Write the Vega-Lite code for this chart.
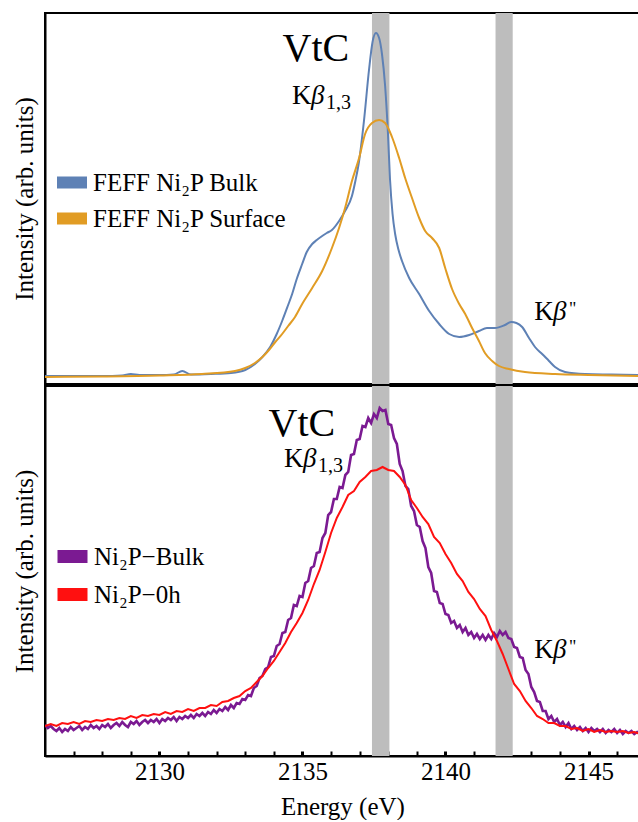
{
  "$schema": "https://vega.github.io/schema/vega-lite/v6.json",
  "padding": {"left": 11, "top": 12, "right": 0, "bottom": 0},
  "spacing": 0,
  "background": "white",
  "config": {
    "view": {"stroke": "black", "strokeWidth": 2},
    "font": "serif",
    "axis": {"grid": false}
  },
  "resolve": {"scale": {"color": "independent", "y": "independent"}, "legend": {"color": "independent"}},
  "datasets": {
    "bands": [{"e": 2137.43, "e2": 2138.04}, {"e": 2141.75, "e2": 2142.35}],
    "top": [
      {"s":"FEFF Ni₂P Bulk","e":2126.0,"i":8},{"s":"FEFF Ni₂P Bulk","e":2127.0,"i":8},{"s":"FEFF Ni₂P Bulk","e":2128.0,"i":8},{"s":"FEFF Ni₂P Bulk","e":2128.7,"i":8.5},{"s":"FEFF Ni₂P Bulk","e":2129.0,"i":10},{"s":"FEFF Ni₂P Bulk","e":2129.3,"i":9},{"s":"FEFF Ni₂P Bulk","e":2130.0,"i":9},{"s":"FEFF Ni₂P Bulk","e":2130.5,"i":9.5},{"s":"FEFF Ni₂P Bulk","e":2130.8,"i":13},{"s":"FEFF Ni₂P Bulk","e":2131.1,"i":9.5},{"s":"FEFF Ni₂P Bulk","e":2131.8,"i":10},{"s":"FEFF Ni₂P Bulk","e":2132.5,"i":11},{"s":"FEFF Ni₂P Bulk","e":2133.0,"i":14},{"s":"FEFF Ni₂P Bulk","e":2133.34,"i":20},{"s":"FEFF Ni₂P Bulk","e":2133.6,"i":27},{"s":"FEFF Ni₂P Bulk","e":2133.87,"i":37},{"s":"FEFF Ni₂P Bulk","e":2134.1,"i":50},{"s":"FEFF Ni₂P Bulk","e":2134.29,"i":63},{"s":"FEFF Ni₂P Bulk","e":2134.5,"i":79},{"s":"FEFF Ni₂P Bulk","e":2134.64,"i":90},{"s":"FEFF Ni₂P Bulk","e":2134.8,"i":105},{"s":"FEFF Ni₂P Bulk","e":2134.99,"i":120},{"s":"FEFF Ni₂P Bulk","e":2135.15,"i":132},{"s":"FEFF Ni₂P Bulk","e":2135.34,"i":140},{"s":"FEFF Ni₂P Bulk","e":2135.5,"i":144},{"s":"FEFF Ni₂P Bulk","e":2135.69,"i":148},{"s":"FEFF Ni₂P Bulk","e":2135.85,"i":151},{"s":"FEFF Ni₂P Bulk","e":2136.03,"i":154},{"s":"FEFF Ni₂P Bulk","e":2136.28,"i":163},{"s":"FEFF Ni₂P Bulk","e":2136.49,"i":173},{"s":"FEFF Ni₂P Bulk","e":2136.73,"i":188},{"s":"FEFF Ni₂P Bulk","e":2136.85,"i":203},{"s":"FEFF Ni₂P Bulk","e":2136.98,"i":223},{"s":"FEFF Ni₂P Bulk","e":2137.15,"i":263},{"s":"FEFF Ni₂P Bulk","e":2137.33,"i":315},{"s":"FEFF Ni₂P Bulk","e":2137.45,"i":342},{"s":"FEFF Ni₂P Bulk","e":2137.57,"i":351},{"s":"FEFF Ni₂P Bulk","e":2137.68,"i":346},{"s":"FEFF Ni₂P Bulk","e":2137.78,"i":330},{"s":"FEFF Ni₂P Bulk","e":2137.89,"i":298},{"s":"FEFF Ni₂P Bulk","e":2137.99,"i":250},{"s":"FEFF Ni₂P Bulk","e":2138.06,"i":205},{"s":"FEFF Ni₂P Bulk","e":2138.15,"i":170},{"s":"FEFF Ni₂P Bulk","e":2138.24,"i":150},{"s":"FEFF Ni₂P Bulk","e":2138.36,"i":134},{"s":"FEFF Ni₂P Bulk","e":2138.48,"i":123},{"s":"FEFF Ni₂P Bulk","e":2138.73,"i":106},{"s":"FEFF Ni₂P Bulk","e":2139.08,"i":90},{"s":"FEFF Ni₂P Bulk","e":2139.43,"i":73},{"s":"FEFF Ni₂P Bulk","e":2139.78,"i":60},{"s":"FEFF Ni₂P Bulk","e":2140.13,"i":50},{"s":"FEFF Ni₂P Bulk","e":2140.48,"i":47},{"s":"FEFF Ni₂P Bulk","e":2140.83,"i":49},{"s":"FEFF Ni₂P Bulk","e":2141.17,"i":53},{"s":"FEFF Ni₂P Bulk","e":2141.45,"i":56},{"s":"FEFF Ni₂P Bulk","e":2141.73,"i":56},{"s":"FEFF Ni₂P Bulk","e":2142.08,"i":59},{"s":"FEFF Ni₂P Bulk","e":2142.3,"i":62},{"s":"FEFF Ni₂P Bulk","e":2142.48,"i":61},{"s":"FEFF Ni₂P Bulk","e":2142.68,"i":57},{"s":"FEFF Ni₂P Bulk","e":2142.92,"i":46},{"s":"FEFF Ni₂P Bulk","e":2143.13,"i":37},{"s":"FEFF Ni₂P Bulk","e":2143.38,"i":30},{"s":"FEFF Ni₂P Bulk","e":2143.62,"i":23},{"s":"FEFF Ni₂P Bulk","e":2143.83,"i":17},{"s":"FEFF Ni₂P Bulk","e":2144.18,"i":12},{"s":"FEFF Ni₂P Bulk","e":2144.88,"i":10},{"s":"FEFF Ni₂P Bulk","e":2145.8,"i":9.5},{"s":"FEFF Ni₂P Bulk","e":2146.8,"i":9},
      {"s":"FEFF Ni₂P Surface","e":2126.0,"i":7},{"s":"FEFF Ni₂P Surface","e":2128.0,"i":7.5},{"s":"FEFF Ni₂P Surface","e":2130.0,"i":8.5},{"s":"FEFF Ni₂P Surface","e":2131.49,"i":10},{"s":"FEFF Ni₂P Surface","e":2132.64,"i":13},{"s":"FEFF Ni₂P Surface","e":2133.0,"i":16},{"s":"FEFF Ni₂P Surface","e":2133.34,"i":21},{"s":"FEFF Ni₂P Surface","e":2133.6,"i":27},{"s":"FEFF Ni₂P Surface","e":2133.83,"i":34},{"s":"FEFF Ni₂P Surface","e":2134.05,"i":42},{"s":"FEFF Ni₂P Surface","e":2134.29,"i":50},{"s":"FEFF Ni₂P Surface","e":2134.5,"i":58},{"s":"FEFF Ni₂P Surface","e":2134.74,"i":67},{"s":"FEFF Ni₂P Surface","e":2134.99,"i":80},{"s":"FEFF Ni₂P Surface","e":2135.34,"i":96},{"s":"FEFF Ni₂P Surface","e":2135.69,"i":113},{"s":"FEFF Ni₂P Surface","e":2136.03,"i":136},{"s":"FEFF Ni₂P Surface","e":2136.28,"i":156},{"s":"FEFF Ni₂P Surface","e":2136.49,"i":176},{"s":"FEFF Ni₂P Surface","e":2136.73,"i":203},{"s":"FEFF Ni₂P Surface","e":2136.98,"i":226},{"s":"FEFF Ni₂P Surface","e":2137.19,"i":250},{"s":"FEFF Ni₂P Surface","e":2137.43,"i":261},{"s":"FEFF Ni₂P Surface","e":2137.68,"i":264},{"s":"FEFF Ni₂P Surface","e":2137.89,"i":261},{"s":"FEFF Ni₂P Surface","e":2138.13,"i":247},{"s":"FEFF Ni₂P Surface","e":2138.38,"i":226},{"s":"FEFF Ni₂P Surface","e":2138.59,"i":206},{"s":"FEFF Ni₂P Surface","e":2138.83,"i":186},{"s":"FEFF Ni₂P Surface","e":2139.08,"i":166},{"s":"FEFF Ni₂P Surface","e":2139.29,"i":153},{"s":"FEFF Ni₂P Surface","e":2139.53,"i":146},{"s":"FEFF Ni₂P Surface","e":2139.78,"i":136},{"s":"FEFF Ni₂P Surface","e":2139.99,"i":116},{"s":"FEFF Ni₂P Surface","e":2140.23,"i":95},{"s":"FEFF Ni₂P Surface","e":2140.48,"i":80},{"s":"FEFF Ni₂P Surface","e":2140.69,"i":70},{"s":"FEFF Ni₂P Surface","e":2140.93,"i":56},{"s":"FEFF Ni₂P Surface","e":2141.17,"i":43},{"s":"FEFF Ni₂P Surface","e":2141.38,"i":31},{"s":"FEFF Ni₂P Surface","e":2141.63,"i":23},{"s":"FEFF Ni₂P Surface","e":2141.87,"i":18},{"s":"FEFF Ni₂P Surface","e":2142.22,"i":15},{"s":"FEFF Ni₂P Surface","e":2142.78,"i":12},{"s":"FEFF Ni₂P Surface","e":2143.83,"i":10},{"s":"FEFF Ni₂P Surface","e":2145.0,"i":9},{"s":"FEFF Ni₂P Surface","e":2146.8,"i":8}
    ],
    "bottom": [
      {"s":"Ni₂P−Bulk","e":2126.0,"i":31},{"s":"Ni₂P−Bulk","e":2126.1,"i":28},{"s":"Ni₂P−Bulk","e":2126.2,"i":30},{"s":"Ni₂P−Bulk","e":2126.3,"i":27},{"s":"Ni₂P−Bulk","e":2126.4,"i":25},{"s":"Ni₂P−Bulk","e":2126.5,"i":28},{"s":"Ni₂P−Bulk","e":2126.6,"i":24},{"s":"Ni₂P−Bulk","e":2126.7,"i":27},{"s":"Ni₂P−Bulk","e":2126.8,"i":25},{"s":"Ni₂P−Bulk","e":2126.9,"i":29},
      {"s":"Ni₂P−Bulk","e":2127.0,"i":26},{"s":"Ni₂P−Bulk","e":2127.1,"i":28},{"s":"Ni₂P−Bulk","e":2127.2,"i":30},{"s":"Ni₂P−Bulk","e":2127.3,"i":26},{"s":"Ni₂P−Bulk","e":2127.4,"i":29},{"s":"Ni₂P−Bulk","e":2127.5,"i":27},{"s":"Ni₂P−Bulk","e":2127.6,"i":31},{"s":"Ni₂P−Bulk","e":2127.7,"i":28},{"s":"Ni₂P−Bulk","e":2127.8,"i":30},{"s":"Ni₂P−Bulk","e":2127.9,"i":27},
      {"s":"Ni₂P−Bulk","e":2128.0,"i":31},{"s":"Ni₂P−Bulk","e":2128.1,"i":29},{"s":"Ni₂P−Bulk","e":2128.2,"i":32},{"s":"Ni₂P−Bulk","e":2128.3,"i":28},{"s":"Ni₂P−Bulk","e":2128.4,"i":31},{"s":"Ni₂P−Bulk","e":2128.5,"i":33},{"s":"Ni₂P−Bulk","e":2128.6,"i":30},{"s":"Ni₂P−Bulk","e":2128.7,"i":34},{"s":"Ni₂P−Bulk","e":2128.8,"i":31},{"s":"Ni₂P−Bulk","e":2128.9,"i":29},
      {"s":"Ni₂P−Bulk","e":2129.0,"i":34},{"s":"Ni₂P−Bulk","e":2129.1,"i":32},{"s":"Ni₂P−Bulk","e":2129.2,"i":35},{"s":"Ni₂P−Bulk","e":2129.3,"i":31},{"s":"Ni₂P−Bulk","e":2129.4,"i":34},{"s":"Ni₂P−Bulk","e":2129.5,"i":36},{"s":"Ni₂P−Bulk","e":2129.6,"i":33},{"s":"Ni₂P−Bulk","e":2129.7,"i":36},{"s":"Ni₂P−Bulk","e":2129.8,"i":34},{"s":"Ni₂P−Bulk","e":2129.9,"i":37},
      {"s":"Ni₂P−Bulk","e":2130.0,"i":33},{"s":"Ni₂P−Bulk","e":2130.1,"i":37},{"s":"Ni₂P−Bulk","e":2130.2,"i":35},{"s":"Ni₂P−Bulk","e":2130.3,"i":38},{"s":"Ni₂P−Bulk","e":2130.4,"i":36},{"s":"Ni₂P−Bulk","e":2130.5,"i":39},{"s":"Ni₂P−Bulk","e":2130.6,"i":35},{"s":"Ni₂P−Bulk","e":2130.7,"i":39},{"s":"Ni₂P−Bulk","e":2130.8,"i":37},{"s":"Ni₂P−Bulk","e":2130.9,"i":40},
      {"s":"Ni₂P−Bulk","e":2131.0,"i":38},{"s":"Ni₂P−Bulk","e":2131.1,"i":41},{"s":"Ni₂P−Bulk","e":2131.2,"i":38},{"s":"Ni₂P−Bulk","e":2131.3,"i":42},{"s":"Ni₂P−Bulk","e":2131.4,"i":40},{"s":"Ni₂P−Bulk","e":2131.5,"i":43},{"s":"Ni₂P−Bulk","e":2131.6,"i":40},{"s":"Ni₂P−Bulk","e":2131.7,"i":44},{"s":"Ni₂P−Bulk","e":2131.8,"i":42},{"s":"Ni₂P−Bulk","e":2131.9,"i":46},
      {"s":"Ni₂P−Bulk","e":2132.0,"i":43},{"s":"Ni₂P−Bulk","e":2132.1,"i":47},{"s":"Ni₂P−Bulk","e":2132.2,"i":45},{"s":"Ni₂P−Bulk","e":2132.3,"i":49},{"s":"Ni₂P−Bulk","e":2132.4,"i":46},{"s":"Ni₂P−Bulk","e":2132.5,"i":51},{"s":"Ni₂P−Bulk","e":2132.6,"i":48},{"s":"Ni₂P−Bulk","e":2132.7,"i":53},{"s":"Ni₂P−Bulk","e":2132.8,"i":52},{"s":"Ni₂P−Bulk","e":2132.9,"i":57},
      {"s":"Ni₂P−Bulk","e":2133.0,"i":56},{"s":"Ni₂P−Bulk","e":2133.1,"i":61},{"s":"Ni₂P−Bulk","e":2133.2,"i":60},{"s":"Ni₂P−Bulk","e":2133.3,"i":68},{"s":"Ni₂P−Bulk","e":2133.4,"i":70},{"s":"Ni₂P−Bulk","e":2133.5,"i":78},{"s":"Ni₂P−Bulk","e":2133.6,"i":80},{"s":"Ni₂P−Bulk","e":2133.7,"i":87},{"s":"Ni₂P−Bulk","e":2133.8,"i":89},{"s":"Ni₂P−Bulk","e":2133.9,"i":99},
      {"s":"Ni₂P−Bulk","e":2134.0,"i":100},{"s":"Ni₂P−Bulk","e":2134.1,"i":110},{"s":"Ni₂P−Bulk","e":2134.2,"i":112},{"s":"Ni₂P−Bulk","e":2134.3,"i":123},{"s":"Ni₂P−Bulk","e":2134.4,"i":124},{"s":"Ni₂P−Bulk","e":2134.5,"i":136},{"s":"Ni₂P−Bulk","e":2134.6,"i":138},{"s":"Ni₂P−Bulk","e":2134.7,"i":151},{"s":"Ni₂P−Bulk","e":2134.8,"i":150},{"s":"Ni₂P−Bulk","e":2134.9,"i":160},
      {"s":"Ni₂P−Bulk","e":2135.0,"i":159},{"s":"Ni₂P−Bulk","e":2135.1,"i":173},{"s":"Ni₂P−Bulk","e":2135.2,"i":175},{"s":"Ni₂P−Bulk","e":2135.3,"i":188},{"s":"Ni₂P−Bulk","e":2135.4,"i":190},{"s":"Ni₂P−Bulk","e":2135.5,"i":203},{"s":"Ni₂P−Bulk","e":2135.6,"i":204},{"s":"Ni₂P−Bulk","e":2135.7,"i":218},{"s":"Ni₂P−Bulk","e":2135.8,"i":223},{"s":"Ni₂P−Bulk","e":2135.9,"i":241},
      {"s":"Ni₂P−Bulk","e":2136.0,"i":244},{"s":"Ni₂P−Bulk","e":2136.1,"i":257},{"s":"Ni₂P−Bulk","e":2136.2,"i":257},{"s":"Ni₂P−Bulk","e":2136.3,"i":269},{"s":"Ni₂P−Bulk","e":2136.4,"i":268},{"s":"Ni₂P−Bulk","e":2136.5,"i":281},{"s":"Ni₂P−Bulk","e":2136.6,"i":284},{"s":"Ni₂P−Bulk","e":2136.7,"i":301},{"s":"Ni₂P−Bulk","e":2136.8,"i":302},{"s":"Ni₂P−Bulk","e":2136.9,"i":316},
      {"s":"Ni₂P−Bulk","e":2137.0,"i":317},{"s":"Ni₂P−Bulk","e":2137.1,"i":330},{"s":"Ni₂P−Bulk","e":2137.2,"i":329},{"s":"Ni₂P−Bulk","e":2137.3,"i":338},{"s":"Ni₂P−Bulk","e":2137.4,"i":333},{"s":"Ni₂P−Bulk","e":2137.5,"i":342},{"s":"Ni₂P−Bulk","e":2137.6,"i":338},{"s":"Ni₂P−Bulk","e":2137.7,"i":348},{"s":"Ni₂P−Bulk","e":2137.8,"i":345},{"s":"Ni₂P−Bulk","e":2137.9,"i":346},
      {"s":"Ni₂P−Bulk","e":2138.0,"i":332},{"s":"Ni₂P−Bulk","e":2138.1,"i":331},{"s":"Ni₂P−Bulk","e":2138.2,"i":318},{"s":"Ni₂P−Bulk","e":2138.3,"i":312},{"s":"Ni₂P−Bulk","e":2138.4,"i":292},{"s":"Ni₂P−Bulk","e":2138.5,"i":285},{"s":"Ni₂P−Bulk","e":2138.6,"i":270},{"s":"Ni₂P−Bulk","e":2138.7,"i":267},{"s":"Ni₂P−Bulk","e":2138.8,"i":250},{"s":"Ni₂P−Bulk","e":2138.9,"i":245},
      {"s":"Ni₂P−Bulk","e":2139.0,"i":231},{"s":"Ni₂P−Bulk","e":2139.1,"i":229},{"s":"Ni₂P−Bulk","e":2139.2,"i":215},{"s":"Ni₂P−Bulk","e":2139.3,"i":208},{"s":"Ni₂P−Bulk","e":2139.4,"i":189},{"s":"Ni₂P−Bulk","e":2139.5,"i":183},{"s":"Ni₂P−Bulk","e":2139.6,"i":165},{"s":"Ni₂P−Bulk","e":2139.7,"i":164},{"s":"Ni₂P−Bulk","e":2139.8,"i":153},{"s":"Ni₂P−Bulk","e":2139.9,"i":152},
      {"s":"Ni₂P−Bulk","e":2140.0,"i":142},{"s":"Ni₂P−Bulk","e":2140.1,"i":141},{"s":"Ni₂P−Bulk","e":2140.2,"i":133},{"s":"Ni₂P−Bulk","e":2140.3,"i":135},{"s":"Ni₂P−Bulk","e":2140.4,"i":128},{"s":"Ni₂P−Bulk","e":2140.5,"i":131},{"s":"Ni₂P−Bulk","e":2140.6,"i":124},{"s":"Ni₂P−Bulk","e":2140.7,"i":128},{"s":"Ni₂P−Bulk","e":2140.8,"i":121},{"s":"Ni₂P−Bulk","e":2140.9,"i":124},
      {"s":"Ni₂P−Bulk","e":2141.0,"i":118},{"s":"Ni₂P−Bulk","e":2141.1,"i":122},{"s":"Ni₂P−Bulk","e":2141.2,"i":117},{"s":"Ni₂P−Bulk","e":2141.3,"i":121},{"s":"Ni₂P−Bulk","e":2141.4,"i":116},{"s":"Ni₂P−Bulk","e":2141.5,"i":121},{"s":"Ni₂P−Bulk","e":2141.6,"i":117},{"s":"Ni₂P−Bulk","e":2141.7,"i":123},{"s":"Ni₂P−Bulk","e":2141.8,"i":119},{"s":"Ni₂P−Bulk","e":2141.9,"i":125},
      {"s":"Ni₂P−Bulk","e":2142.0,"i":121},{"s":"Ni₂P−Bulk","e":2142.1,"i":124},{"s":"Ni₂P−Bulk","e":2142.2,"i":118},{"s":"Ni₂P−Bulk","e":2142.3,"i":117},{"s":"Ni₂P−Bulk","e":2142.4,"i":109},{"s":"Ni₂P−Bulk","e":2142.5,"i":108},{"s":"Ni₂P−Bulk","e":2142.6,"i":99},{"s":"Ni₂P−Bulk","e":2142.7,"i":98},{"s":"Ni₂P−Bulk","e":2142.8,"i":86},{"s":"Ni₂P−Bulk","e":2142.9,"i":82},
      {"s":"Ni₂P−Bulk","e":2143.0,"i":69},{"s":"Ni₂P−Bulk","e":2143.1,"i":64},{"s":"Ni₂P−Bulk","e":2143.2,"i":55},{"s":"Ni₂P−Bulk","e":2143.3,"i":54},{"s":"Ni₂P−Bulk","e":2143.4,"i":45},{"s":"Ni₂P−Bulk","e":2143.5,"i":45},{"s":"Ni₂P−Bulk","e":2143.6,"i":37},{"s":"Ni₂P−Bulk","e":2143.7,"i":40},{"s":"Ni₂P−Bulk","e":2143.8,"i":34},{"s":"Ni₂P−Bulk","e":2143.9,"i":37},
      {"s":"Ni₂P−Bulk","e":2144.0,"i":31},{"s":"Ni₂P−Bulk","e":2144.1,"i":34},{"s":"Ni₂P−Bulk","e":2144.2,"i":29},{"s":"Ni₂P−Bulk","e":2144.3,"i":33},{"s":"Ni₂P−Bulk","e":2144.4,"i":27},{"s":"Ni₂P−Bulk","e":2144.5,"i":30},{"s":"Ni₂P−Bulk","e":2144.6,"i":26},{"s":"Ni₂P−Bulk","e":2144.7,"i":29},{"s":"Ni₂P−Bulk","e":2144.8,"i":25},{"s":"Ni₂P−Bulk","e":2144.9,"i":28},
      {"s":"Ni₂P−Bulk","e":2145.0,"i":24},{"s":"Ni₂P−Bulk","e":2145.1,"i":28},{"s":"Ni₂P−Bulk","e":2145.2,"i":25},{"s":"Ni₂P−Bulk","e":2145.3,"i":27},{"s":"Ni₂P−Bulk","e":2145.4,"i":24},{"s":"Ni₂P−Bulk","e":2145.5,"i":27},{"s":"Ni₂P−Bulk","e":2145.6,"i":23},{"s":"Ni₂P−Bulk","e":2145.7,"i":26},{"s":"Ni₂P−Bulk","e":2145.8,"i":24},{"s":"Ni₂P−Bulk","e":2145.9,"i":27},
      {"s":"Ni₂P−Bulk","e":2146.0,"i":23},{"s":"Ni₂P−Bulk","e":2146.1,"i":26},{"s":"Ni₂P−Bulk","e":2146.2,"i":22},{"s":"Ni₂P−Bulk","e":2146.3,"i":25},{"s":"Ni₂P−Bulk","e":2146.4,"i":23},{"s":"Ni₂P−Bulk","e":2146.5,"i":25},{"s":"Ni₂P−Bulk","e":2146.6,"i":22},{"s":"Ni₂P−Bulk","e":2146.7,"i":24},{"s":"Ni₂P−Bulk","e":2146.8,"i":22},
      {"s":"Ni₂P−0h","e":2126.0,"i":30},{"s":"Ni₂P−0h","e":2126.2,"i":32},{"s":"Ni₂P−0h","e":2126.4,"i":30},{"s":"Ni₂P−0h","e":2126.6,"i":33},{"s":"Ni₂P−0h","e":2126.8,"i":32},{"s":"Ni₂P−0h","e":2127.0,"i":34},{"s":"Ni₂P−0h","e":2127.2,"i":32},{"s":"Ni₂P−0h","e":2127.4,"i":35},{"s":"Ni₂P−0h","e":2127.6,"i":34},{"s":"Ni₂P−0h","e":2127.8,"i":36},
      {"s":"Ni₂P−0h","e":2128.0,"i":35},{"s":"Ni₂P−0h","e":2128.2,"i":37},{"s":"Ni₂P−0h","e":2128.4,"i":36},{"s":"Ni₂P−0h","e":2128.6,"i":38},{"s":"Ni₂P−0h","e":2128.8,"i":37},{"s":"Ni₂P−0h","e":2129.0,"i":40},{"s":"Ni₂P−0h","e":2129.2,"i":38},{"s":"Ni₂P−0h","e":2129.4,"i":41},{"s":"Ni₂P−0h","e":2129.6,"i":40},{"s":"Ni₂P−0h","e":2129.8,"i":42},
      {"s":"Ni₂P−0h","e":2130.0,"i":41},{"s":"Ni₂P−0h","e":2130.2,"i":44},{"s":"Ni₂P−0h","e":2130.4,"i":42},{"s":"Ni₂P−0h","e":2130.6,"i":45},{"s":"Ni₂P−0h","e":2130.8,"i":44},{"s":"Ni₂P−0h","e":2131.0,"i":47},{"s":"Ni₂P−0h","e":2131.2,"i":45},{"s":"Ni₂P−0h","e":2131.4,"i":48},{"s":"Ni₂P−0h","e":2131.6,"i":48},{"s":"Ni₂P−0h","e":2131.8,"i":51},
      {"s":"Ni₂P−0h","e":2132.0,"i":50},{"s":"Ni₂P−0h","e":2132.2,"i":54},{"s":"Ni₂P−0h","e":2132.4,"i":55},{"s":"Ni₂P−0h","e":2132.6,"i":58},{"s":"Ni₂P−0h","e":2132.8,"i":60},{"s":"Ni₂P−0h","e":2133.0,"i":65},{"s":"Ni₂P−0h","e":2133.2,"i":68},{"s":"Ni₂P−0h","e":2133.4,"i":74},{"s":"Ni₂P−0h","e":2133.6,"i":80},{"s":"Ni₂P−0h","e":2133.8,"i":88},
      {"s":"Ni₂P−0h","e":2134.0,"i":95},{"s":"Ni₂P−0h","e":2134.2,"i":104},{"s":"Ni₂P−0h","e":2134.4,"i":113},{"s":"Ni₂P−0h","e":2134.6,"i":124},{"s":"Ni₂P−0h","e":2134.8,"i":133},{"s":"Ni₂P−0h","e":2135.0,"i":143},{"s":"Ni₂P−0h","e":2135.2,"i":156},{"s":"Ni₂P−0h","e":2135.4,"i":172},{"s":"Ni₂P−0h","e":2135.6,"i":186},{"s":"Ni₂P−0h","e":2135.8,"i":204},
      {"s":"Ni₂P−0h","e":2136.0,"i":223},{"s":"Ni₂P−0h","e":2136.2,"i":238},{"s":"Ni₂P−0h","e":2136.4,"i":249},{"s":"Ni₂P−0h","e":2136.6,"i":261},{"s":"Ni₂P−0h","e":2136.8,"i":265},{"s":"Ni₂P−0h","e":2137.0,"i":274},{"s":"Ni₂P−0h","e":2137.2,"i":279},{"s":"Ni₂P−0h","e":2137.4,"i":285},{"s":"Ni₂P−0h","e":2137.6,"i":286},{"s":"Ni₂P−0h","e":2137.8,"i":289},
      {"s":"Ni₂P−0h","e":2138.0,"i":286},{"s":"Ni₂P−0h","e":2138.2,"i":285},{"s":"Ni₂P−0h","e":2138.4,"i":279},{"s":"Ni₂P−0h","e":2138.6,"i":271},{"s":"Ni₂P−0h","e":2138.8,"i":256},{"s":"Ni₂P−0h","e":2139.0,"i":248},{"s":"Ni₂P−0h","e":2139.2,"i":239},{"s":"Ni₂P−0h","e":2139.4,"i":232},{"s":"Ni₂P−0h","e":2139.6,"i":219},{"s":"Ni₂P−0h","e":2139.8,"i":213},
      {"s":"Ni₂P−0h","e":2140.0,"i":202},{"s":"Ni₂P−0h","e":2140.2,"i":193},{"s":"Ni₂P−0h","e":2140.4,"i":182},{"s":"Ni₂P−0h","e":2140.6,"i":175},{"s":"Ni₂P−0h","e":2140.8,"i":164},{"s":"Ni₂P−0h","e":2141.0,"i":157},{"s":"Ni₂P−0h","e":2141.2,"i":147},{"s":"Ni₂P−0h","e":2141.4,"i":140},{"s":"Ni₂P−0h","e":2141.6,"i":126},{"s":"Ni₂P−0h","e":2141.8,"i":115},
      {"s":"Ni₂P−0h","e":2142.0,"i":102},{"s":"Ni₂P−0h","e":2142.2,"i":87},{"s":"Ni₂P−0h","e":2142.4,"i":72},{"s":"Ni₂P−0h","e":2142.6,"i":65},{"s":"Ni₂P−0h","e":2142.8,"i":55},{"s":"Ni₂P−0h","e":2143.0,"i":48},{"s":"Ni₂P−0h","e":2143.2,"i":40},{"s":"Ni₂P−0h","e":2143.4,"i":37},{"s":"Ni₂P−0h","e":2143.6,"i":33},{"s":"Ni₂P−0h","e":2143.8,"i":33},
      {"s":"Ni₂P−0h","e":2144.0,"i":30},{"s":"Ni₂P−0h","e":2144.2,"i":30},{"s":"Ni₂P−0h","e":2144.4,"i":27},{"s":"Ni₂P−0h","e":2144.6,"i":28},{"s":"Ni₂P−0h","e":2144.8,"i":25},{"s":"Ni₂P−0h","e":2145.0,"i":27},{"s":"Ni₂P−0h","e":2145.2,"i":24},{"s":"Ni₂P−0h","e":2145.4,"i":26},{"s":"Ni₂P−0h","e":2145.6,"i":24},{"s":"Ni₂P−0h","e":2145.8,"i":25},
      {"s":"Ni₂P−0h","e":2146.0,"i":24},{"s":"Ni₂P−0h","e":2146.2,"i":25},{"s":"Ni₂P−0h","e":2146.4,"i":23},{"s":"Ni₂P−0h","e":2146.6,"i":24},{"s":"Ni₂P−0h","e":2146.8,"i":22}
    ]
  },
  "vconcat": [
    {
      "width": 595,
      "height": 371,
      "encoding": {
        "x": {"field": "e", "type": "quantitative", "scale": {"domain": [2126, 2146.8], "nice": false, "zero": false}, "axis": null}
      },
      "layer": [
        {
          "data": {"name": "bands"},
          "mark": {"type": "rect", "color": "#BDBDBD"},
          "encoding": {"x2": {"field": "e2"}}
        },
        {
          "data": {"name": "top"},
          "mark": {"type": "line", "strokeWidth": 2, "interpolate": "monotone", "clip": true},
          "encoding": {
            "y": {"field": "i", "type": "quantitative", "scale": {"domain": [0, 371], "nice": false, "zero": false},
                  "axis": {"title": "Intensity (arb. units)", "titleFont": "serif", "labels": false, "ticks": false, "domain": true, "domainColor": "black", "domainWidth": 2, "grid": false, "titleFontSize": 25, "titleFontWeight": "normal", "titleColor": "black", "titlePadding": 8}},
            "color": {"field": "s", "type": "nominal",
                      "scale": {"domain": ["FEFF Ni₂P Bulk", "FEFF Ni₂P Surface"], "range": ["#5E81B5", "#E19C24"]},
                      "legend": {"title": null, "orient": "none", "legendX": 6, "legendY": 157, "symbolType": "stroke", "symbolSize": 900, "symbolStrokeWidth": 12, "clipHeight": 25, "labelFont": "serif", "labelFontSize": 25, "labelColor": "black", "labelLimit": 400, "rowPadding": 10, "labelOffset": 0, "padding": 0}}
          }
        },
        {
          "data": {"values": [{"e": 2135.47, "i": 323, "t": "VtC"}]},
          "mark": {"type": "text", "font": "serif", "fontSize": 40, "align": "center", "baseline": "alphabetic", "color": "black"},
          "encoding": {"y": {"field": "i", "type": "quantitative", "scale": {"domain": [0, 371], "nice": false, "zero": false}}, "text": {"field": "t"}}
        },
        {
          "data": {"values": [{"e": 2134.635, "i": 280, "t": "K"}, {"e": 2143.1, "i": 64, "t": "K"}]},
          "mark": {"type": "text", "font": "serif", "fontSize": 27, "align": "left", "baseline": "alphabetic", "color": "black"},
          "encoding": {"y": {"field": "i", "type": "quantitative", "scale": {"domain": [0, 371], "nice": false, "zero": false}}, "text": {"field": "t"}}
        },
        {
          "data": {"values": [{"e": 2135.3, "i": 280, "t": "β"}, {"e": 2143.76, "i": 64, "t": "β"}]},
          "mark": {"type": "text", "font": "serif", "fontSize": 27, "fontStyle": "italic", "align": "left", "baseline": "alphabetic", "color": "black"},
          "encoding": {"y": {"field": "i", "type": "quantitative", "scale": {"domain": [0, 371], "nice": false, "zero": false}}, "text": {"field": "t"}}
        },
        {
          "data": {"values": [{"e": 2135.82, "i": 275, "t": "1,3"}]},
          "mark": {"type": "text", "font": "serif", "fontSize": 20, "align": "left", "baseline": "alphabetic", "color": "black"},
          "encoding": {"y": {"field": "i", "type": "quantitative", "scale": {"domain": [0, 371], "nice": false, "zero": false}}, "text": {"field": "t"}}
        },
        {
          "data": {"values": [{"e": 2144.32, "i": 69, "t": "\""}]},
          "mark": {"type": "text", "font": "serif", "fontSize": 18, "align": "left", "baseline": "alphabetic", "color": "black"},
          "encoding": {"y": {"field": "i", "type": "quantitative", "scale": {"domain": [0, 371], "nice": false, "zero": false}}, "text": {"field": "t"}}
        }
      ]
    },
    {
      "width": 595,
      "height": 370,
      "encoding": {
        "x": {"field": "e", "type": "quantitative", "scale": {"domain": [2126, 2146.8], "nice": false, "zero": false},
              "axis": {"title": "Energy (eV)", "values": [2127,2128,2129,2130,2131,2132,2133,2134,2135,2136,2137,2138,2139,2140,2141,2142,2143,2144,2145,2146],
                       "format": "d", "labelExpr": "datum.value % 5 === 0 ? datum.label : ''",
                       "labelFont": "serif", "labelFontSize": 25, "labelColor": "black", "labelPadding": 8, "labelFlush": false, "labelOverlap": false,
                       "tickColor": "black", "tickSize": -5, "tickWidth": {"condition": {"test": "datum.value % 5 === 0", "value": 3}, "value": 2},
                       "domain": true, "domainColor": "black", "domainWidth": 2, "grid": false,
                       "titleFont": "serif", "titleFontSize": 25, "titleFontWeight": "normal", "titleColor": "black", "titlePadding": 10}}
      },
      "layer": [
        {
          "data": {"name": "bands"},
          "mark": {"type": "rect", "color": "#BDBDBD"},
          "encoding": {"x2": {"field": "e2"}}
        },
        {
          "data": {"name": "bottom"},
          "transform": [{"filter": "datum.s === 'Ni₂P−Bulk'"}],
          "mark": {"type": "line", "strokeWidth": 2.6, "clip": true},
          "encoding": {
            "y": {"field": "i", "type": "quantitative", "scale": {"domain": [0, 370], "nice": false, "zero": false},
                  "axis": {"title": "Intensity (arb. units)", "titleFont": "serif", "labels": false, "ticks": false, "domain": true, "domainColor": "black", "domainWidth": 2, "grid": false, "titleFontSize": 25, "titleFontWeight": "normal", "titleColor": "black", "titlePadding": 8}},
            "color": {"field": "s", "type": "nominal",
                      "scale": {"domain": ["Ni₂P−Bulk", "Ni₂P−0h"], "range": ["#7B1A92", "#FF1010"]},
                      "legend": {"title": null, "orient": "none", "legendX": 6, "legendY": 158, "symbolType": "stroke", "symbolSize": 900, "symbolStrokeWidth": 13, "clipHeight": 25, "labelFont": "serif", "labelFontSize": 25, "labelColor": "black", "labelLimit": 400, "rowPadding": 12, "labelOffset": 0, "padding": 0}}
          }
        },
        {
          "data": {"name": "bottom"},
          "transform": [{"filter": "datum.s === 'Ni₂P−0h'"}],
          "mark": {"type": "line", "strokeWidth": 2, "clip": true},
          "encoding": {
            "y": {"field": "i", "type": "quantitative", "scale": {"domain": [0, 370], "nice": false, "zero": false}},
            "color": {"field": "s", "type": "nominal"}
          }
        },
        {
          "data": {"values": [{"e": 2134.98, "i": 320, "t": "VtC"}]},
          "mark": {"type": "text", "font": "serif", "fontSize": 40, "align": "center", "baseline": "alphabetic", "color": "black"},
          "encoding": {"y": {"field": "i", "type": "quantitative", "scale": {"domain": [0, 370], "nice": false, "zero": false}}, "text": {"field": "t"}}
        },
        {
          "data": {"values": [{"e": 2134.355, "i": 289, "t": "K"}, {"e": 2143.1, "i": 98, "t": "K"}]},
          "mark": {"type": "text", "font": "serif", "fontSize": 27, "align": "left", "baseline": "alphabetic", "color": "black"},
          "encoding": {"y": {"field": "i", "type": "quantitative", "scale": {"domain": [0, 370], "nice": false, "zero": false}}, "text": {"field": "t"}}
        },
        {
          "data": {"values": [{"e": 2135.02, "i": 289, "t": "β"}, {"e": 2143.76, "i": 98, "t": "β"}]},
          "mark": {"type": "text", "font": "serif", "fontSize": 27, "fontStyle": "italic", "align": "left", "baseline": "alphabetic", "color": "black"},
          "encoding": {"y": {"field": "i", "type": "quantitative", "scale": {"domain": [0, 370], "nice": false, "zero": false}}, "text": {"field": "t"}}
        },
        {
          "data": {"values": [{"e": 2135.54, "i": 284, "t": "1,3"}]},
          "mark": {"type": "text", "font": "serif", "fontSize": 20, "align": "left", "baseline": "alphabetic", "color": "black"},
          "encoding": {"y": {"field": "i", "type": "quantitative", "scale": {"domain": [0, 370], "nice": false, "zero": false}}, "text": {"field": "t"}}
        },
        {
          "data": {"values": [{"e": 2144.32, "i": 103, "t": "\""}]},
          "mark": {"type": "text", "font": "serif", "fontSize": 18, "align": "left", "baseline": "alphabetic", "color": "black"},
          "encoding": {"y": {"field": "i", "type": "quantitative", "scale": {"domain": [0, 370], "nice": false, "zero": false}}, "text": {"field": "t"}}
        }
      ]
    }
  ]
}
